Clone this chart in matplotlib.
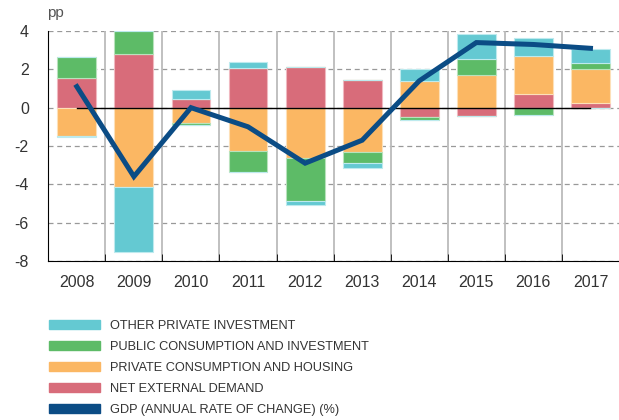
import numpy as np
import matplotlib.pyplot as plt
from matplotlib.patches import Patch

years = ['2008', '2009', '2010', '2011', '2012', '2013', '2014', '2015', '2016', '2017']

# contributions to GDP growth, pp
net_external = [1.57, 2.79, 0.45, 2.09, 2.14, 1.45, -0.50, -0.42, 0.72, 0.25]
private_cons = [-1.46, -4.16, -0.82, -2.26, -2.63, -2.33, 1.38, 1.71, 1.98, 1.77]
public_cons = [1.10, 1.21, -0.08, -1.12, -2.25, -0.58, -0.13, 0.85, -0.38, 0.32]
other_inv = [-0.09, -3.40, 0.48, 0.28, -0.19, -0.23, 0.62, 1.29, 0.94, 0.71]
gdp = [1.1, -3.6, 0.0, -1.0, -2.9, -1.7, 1.4, 3.4, 3.3, 3.1]

labels = ['OTHER PRIVATE INVESTMENT', 'PUBLIC CONSUMPTION AND INVESTMENT',
          'PRIVATE CONSUMPTION AND HOUSING', 'NET EXTERNAL DEMAND',
          'GDP (ANNUAL RATE OF CHANGE) (%)']

c_red = '#d86c7a'
c_orange = '#fbb763'
c_green = '#5dbb67'
c_cyan = '#64c9d2'
c_navy = '#0b4c85'

plt.rcParams['font.family'] = ['Liberation Sans', 'DejaVu Sans']

fig = plt.figure(figsize=(6.19, 4.2), dpi=100)
ax = fig.add_axes([0.078, 0.379, 0.922, 0.547])

x = np.arange(len(years))
series = [(net_external, c_red, '#f0b8c0'), (private_cons, c_orange, '#fde0b8'),
          (public_cons, c_green, '#b8e2bc'), (other_inv, c_cyan, '#bdeaee')]

# stack positive and negative parts separately
pos_base = np.zeros(len(years))
neg_base = np.zeros(len(years))
for vals, col, edge in series:
    vals = np.array(vals)
    pos = np.where(vals > 0, vals, 0)
    neg = np.where(vals < 0, vals, 0)
    ax.bar(x, pos, 0.68, bottom=pos_base, color=col, edgecolor=edge, linewidth=0.8, zorder=2)
    ax.bar(x, neg, 0.68, bottom=neg_base, color=col, edgecolor=edge, linewidth=0.8, zorder=2)
    pos_base += pos
    neg_base += neg

ax.plot(x, np.zeros(len(years)), color='black', linewidth=1.0, zorder=3)
ax.plot(x, gdp, color=c_navy, linewidth=3.6, zorder=4, solid_joinstyle='miter')

ax.set_xlim(-0.5, 9.5)
ax.set_ylim(-8, 4)
ax.set_yticks(range(-8, 5, 2))
ax.set_yticklabels([str(v) for v in range(-8, 5, 2)])
ax.set_xticks(x)
ax.set_xticklabels(years)
ax.set_xticks(x[:-1] + 0.5, minor=True)

ax.tick_params(axis='x', which='major', length=0, pad=10, labelsize=11.5, colors='#333333')
ax.tick_params(axis='x', which='minor', direction='in', length=5, color='black')
ax.tick_params(axis='y', length=0, pad=14, labelsize=11.5, colors='#333333')

for yv in range(-8, 5, 2):
    ax.axhline(yv, color='#999999', linestyle=(0, (4, 3)), linewidth=0.9, zorder=1)
for xv in x[:-1] + 0.5:
    ax.axvline(xv, color='#bbbbbb', linewidth=1.3, zorder=1)

for s in ['top', 'right']:
    ax.spines[s].set_visible(False)

ax.text(-0.002, 1.05, 'pp', transform=ax.transAxes, fontsize=11, color='#555555',
        ha='left', va='bottom')

handles = [Patch(color=c_cyan), Patch(color=c_green), Patch(color=c_orange),
           Patch(color=c_red), Patch(color=c_navy)]
leg = fig.legend(handles, labels, loc='upper left', bbox_to_anchor=(0.079, 0.238),
                 frameon=False, handlelength=4.0, handleheight=0.7, handletextpad=0.8,
                 labelspacing=0.7, borderaxespad=0, borderpad=0,
                 prop={'family': ['Liberation Sans Narrow', 'Liberation Sans'], 'size': 9.2})
for t in leg.get_texts():
    t.set_color('#333333')

fig.savefig('out.png', dpi=100)
